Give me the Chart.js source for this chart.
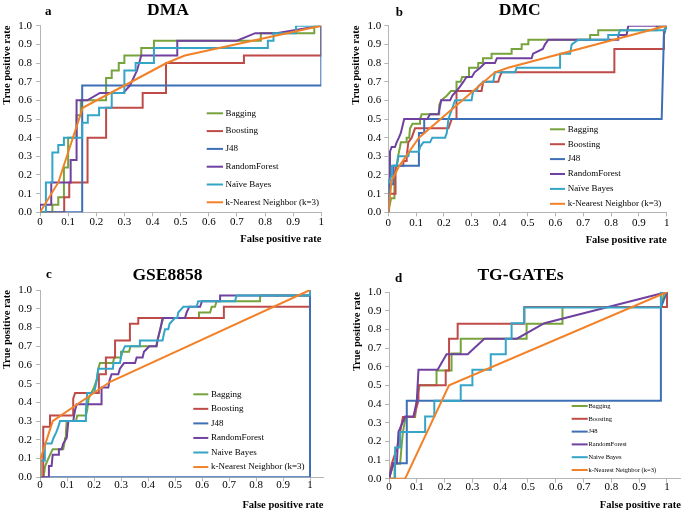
<!DOCTYPE html>
<html>
<head>
<meta charset="utf-8">
<script src="https://cdn.jsdelivr.net/npm/chart.js@4"></script>
<style>
html,body{margin:0;padding:0;background:#fff;width:697px;height:512px;overflow:hidden;position:relative}
canvas{position:absolute}
</style>
</head>
<body>
<canvas id="p0" width="345" height="250" style="left:0px;top:0px"></canvas>
<canvas id="p1" width="352" height="250" style="left:345px;top:0px"></canvas>
<canvas id="p2" width="345" height="262" style="left:0px;top:250px"></canvas>
<canvas id="p3" width="352" height="262" style="left:345px;top:250px"></canvas>
<script>
// ---------- tick labels ----------
const xTickLabels = ['0','0.1','0.2','0.3','0.4','0.5','0.6','0.7','0.8','0.9','1'];
const yTickLabels = ['0.0','0.1','0.2','0.3','0.4','0.5','0.6','0.7','0.8','0.9','1.0'];

// ---------- panels / series ----------
const panelTitles = ['DMA', 'DMC', 'GSE8858', 'TG-GATEs'];
const panelLetters = ['a', 'b', 'c', 'd'];
const seriesNamesAB = ['Bagging', 'Boosting', 'J48', 'RandomForest', 'Naïve Bayes', 'k-Nearest Neighbor (k=3)'];
const seriesNamesCD = ['Bagging', 'Boosting', 'J48', 'RandomForest', 'Naive Bayes', 'k-Nearest Neighbor (k=3)'];
const seriesColors = ['#77a33d', '#be4b48', '#3d6fb6', '#7041a0', '#35a5c7', '#f28128'];

// ---------- DMA (false positive rate, true positive rate) ----------
const dmaBagging = [[0,0],[0.044,0],[0.044,0.04],[0.065,0.04],[0.065,0.08],[0.085,0.08],[0.085,0.24],[0.1,0.24],[0.1,0.4],[0.13,0.4],[0.13,0.52],[0.145,0.52],[0.145,0.6],[0.235,0.6],[0.235,0.72],[0.255,0.72],[0.255,0.76],[0.28,0.76],[0.28,0.8],[0.3,0.8],[0.3,0.84],[0.36,0.84],[0.36,0.88],[0.405,0.88],[0.405,0.92],[0.785,0.92],[0.785,0.96],[0.975,0.96],[0.975,1],[1,1]];
const dmaBoosting = [[0,0],[0.086,0],[0.086,0.08],[0.104,0.08],[0.104,0.16],[0.169,0.16],[0.169,0.4],[0.235,0.4],[0.235,0.56],[0.365,0.56],[0.365,0.64],[0.448,0.64],[0.448,0.8],[0.725,0.8],[0.725,0.84],[1,0.84],[1,1]];
const dmaJ48 = [[0,0],[0.15,0],[0.15,0.68],[1,0.68],[1,1]];
const dmaRandomForest = [[0,0],[0,0.04],[0.04,0.04],[0.04,0.16],[0.109,0.16],[0.109,0.28],[0.13,0.28],[0.13,0.6],[0.168,0.6],[0.213,0.64],[0.296,0.64],[0.32,0.68],[0.345,0.76],[0.36,0.84],[0.488,0.84],[0.488,0.92],[0.7,0.92],[0.765,0.96],[0.84,0.96],[1,1]];
const dmaNaiveBayes = [[0,0],[0.021,0],[0.021,0.16],[0.044,0.16],[0.044,0.32],[0.065,0.32],[0.065,0.36],[0.085,0.36],[0.085,0.4],[0.15,0.4],[0.15,0.48],[0.17,0.48],[0.17,0.52],[0.21,0.52],[0.21,0.56],[0.255,0.56],[0.255,0.64],[0.3,0.64],[0.3,0.76],[0.34,0.76],[0.34,0.8],[0.405,0.8],[0.405,0.88],[0.81,0.88],[0.81,0.92],[0.83,0.92],[0.83,0.96],[0.91,0.96],[0.91,1],[1,1]];
const dmaKnn = [[0,0],[0.065,0.16],[0.152,0.56],[0.45,0.8],[0.515,0.84],[1,1]];

// ---------- DMC ----------
const dmcBagging = [[0,0],[0.01,0.075],[0.022,0.075],[0.022,0.2],[0.03,0.25],[0.035,0.3],[0.042,0.35],[0.045,0.375],[0.066,0.375],[0.066,0.4],[0.075,0.4],[0.078,0.45],[0.087,0.475],[0.114,0.475],[0.114,0.5],[0.12,0.525],[0.183,0.525],[0.183,0.575],[0.19,0.6],[0.21,0.625],[0.225,0.65],[0.245,0.65],[0.245,0.7],[0.26,0.7],[0.265,0.725],[0.29,0.725],[0.29,0.775],[0.323,0.775],[0.323,0.8],[0.34,0.8],[0.34,0.825],[0.371,0.825],[0.371,0.85],[0.443,0.85],[0.443,0.875],[0.479,0.875],[0.479,0.9],[0.503,0.9],[0.503,0.925],[0.725,0.925],[0.725,0.95],[0.754,0.95],[0.754,0.975],[0.964,0.975],[0.964,1],[1,1]];
const dmcBoosting = [[0,0],[0.006,0.1],[0.026,0.1],[0.026,0.25],[0.054,0.25],[0.054,0.275],[0.066,0.275],[0.066,0.3],[0.072,0.375],[0.084,0.4],[0.096,0.45],[0.216,0.45],[0.222,0.475],[0.228,0.5],[0.245,0.5],[0.245,0.65],[0.335,0.65],[0.341,0.7],[0.395,0.7],[0.4,0.725],[0.407,0.75],[0.812,0.75],[0.812,0.875],[0.988,0.875],[0.99,0.975],[1,1]];
const dmcJ48 = [[0,0],[0,0.15],[0.018,0.15],[0.018,0.25],[0.11,0.25],[0.11,0.425],[0.129,0.425],[0.129,0.5],[0.982,0.5],[0.99,0.95],[1,1]];
const dmcRandomForest = [[0,0],[0.004,0.175],[0.006,0.325],[0.012,0.35],[0.024,0.35],[0.03,0.375],[0.038,0.4],[0.045,0.425],[0.057,0.5],[0.14,0.5],[0.15,0.525],[0.18,0.525],[0.19,0.6],[0.222,0.6],[0.23,0.625],[0.245,0.65],[0.258,0.675],[0.27,0.7],[0.281,0.725],[0.3,0.725],[0.31,0.75],[0.33,0.775],[0.347,0.8],[0.383,0.8],[0.39,0.825],[0.515,0.825],[0.52,0.85],[0.555,0.875],[0.563,0.9],[0.575,0.925],[0.826,0.925],[0.826,0.95],[0.856,0.95],[0.862,1],[1,1]];
const dmcNaiveBayes = [[0,0],[0,0.15],[0.012,0.2],[0.012,0.25],[0.03,0.25],[0.034,0.275],[0.036,0.3],[0.072,0.3],[0.075,0.325],[0.11,0.325],[0.114,0.35],[0.126,0.375],[0.15,0.375],[0.158,0.4],[0.204,0.4],[0.21,0.425],[0.216,0.5],[0.228,0.55],[0.234,0.575],[0.24,0.6],[0.299,0.6],[0.305,0.65],[0.317,0.65],[0.323,0.675],[0.341,0.7],[0.377,0.7],[0.383,0.75],[0.455,0.75],[0.461,0.775],[0.617,0.775],[0.617,0.85],[0.653,0.85],[0.659,0.9],[0.683,0.925],[0.79,0.925],[0.79,0.95],[0.826,0.95],[0.832,0.975],[0.994,0.975],[1,1]];
const dmcKnn = [[0,0],[0.012,0.17],[0.04,0.25],[0.11,0.4],[0.383,0.75],[0.43,0.775],[1,1]];

// ---------- GSE8858 ----------
const gseBagging = [[0,0],[0.013,0],[0.019,0.06],[0.028,0.09],[0.037,0.12],[0.047,0.15],[0.086,0.15],[0.09,0.18],[0.093,0.21],[0.096,0.24],[0.099,0.3],[0.133,0.3],[0.138,0.33],[0.17,0.33],[0.175,0.36],[0.18,0.42],[0.19,0.45],[0.2,0.48],[0.21,0.52],[0.216,0.58],[0.222,0.61],[0.27,0.61],[0.275,0.64],[0.3,0.64],[0.3,0.67],[0.33,0.67],[0.335,0.7],[0.43,0.7],[0.435,0.73],[0.44,0.76],[0.446,0.79],[0.45,0.82],[0.457,0.85],[0.589,0.85],[0.589,0.88],[0.63,0.88],[0.636,0.91],[0.648,0.91],[0.654,0.94],[0.815,0.94],[0.815,0.97],[1,0.97],[1,1]];
const gseBoosting = [[0,0],[0.012,0],[0.012,0.27],[0.037,0.27],[0.037,0.33],[0.123,0.33],[0.123,0.42],[0.13,0.45],[0.218,0.45],[0.218,0.55],[0.244,0.55],[0.244,0.64],[0.278,0.64],[0.278,0.73],[0.333,0.73],[0.333,0.82],[0.364,0.82],[0.364,0.85],[0.681,0.85],[0.681,0.91],[1,0.91],[1,1]];
const gseJ48 = [[0,0],[1,0],[1,1]];
const gseRandomForest = [[0,0],[0.033,0],[0.033,0.06],[0.043,0.06],[0.047,0.12],[0.068,0.12],[0.07,0.15],[0.08,0.15],[0.086,0.18],[0.099,0.21],[0.105,0.3],[0.123,0.3],[0.13,0.36],[0.136,0.39],[0.228,0.39],[0.228,0.48],[0.253,0.48],[0.258,0.52],[0.265,0.55],[0.29,0.55],[0.296,0.58],[0.311,0.61],[0.352,0.61],[0.358,0.64],[0.38,0.64],[0.385,0.67],[0.405,0.7],[0.432,0.7],[0.435,0.73],[0.44,0.76],[0.445,0.79],[0.45,0.82],[0.454,0.85],[0.537,0.85],[0.543,0.88],[0.553,0.91],[0.593,0.91],[0.6,0.94],[0.667,0.94],[0.667,0.97],[1,0.97],[1,1]];
const gseNaiveBayes = [[0,0],[0.003,0.09],[0.018,0.09],[0.018,0.18],[0.043,0.18],[0.05,0.21],[0.06,0.24],[0.068,0.27],[0.074,0.3],[0.167,0.3],[0.17,0.36],[0.175,0.45],[0.2,0.45],[0.205,0.48],[0.21,0.52],[0.216,0.58],[0.27,0.58],[0.272,0.61],[0.296,0.61],[0.3,0.64],[0.305,0.67],[0.315,0.7],[0.37,0.7],[0.37,0.73],[0.454,0.73],[0.458,0.76],[0.463,0.79],[0.475,0.79],[0.48,0.82],[0.5,0.85],[0.508,0.85],[0.512,0.88],[0.531,0.91],[0.58,0.91],[0.586,0.94],[0.722,0.94],[0.728,0.97],[1,0.97],[1,1]];
const gseKnn = [[0,0],[0,0.09],[0.047,0.3],[0.26,0.51],[1,1]];

// ---------- TG-GATEs ----------
const tggBagging = [[0,0],[0.02,0],[0.02,0.08],[0.04,0.08],[0.045,0.17],[0.05,0.25],[0.06,0.33],[0.094,0.33],[0.1,0.42],[0.11,0.5],[0.171,0.5],[0.171,0.58],[0.225,0.58],[0.225,0.67],[0.258,0.67],[0.258,0.75],[0.495,0.75],[0.495,0.83],[0.624,0.83],[0.624,0.92],[0.98,0.92],[0.99,1],[1,1]];
const tggBoosting = [[0,0],[0.01,0.08],[0.03,0.17],[0.04,0.25],[0.05,0.33],[0.09,0.33],[0.106,0.42],[0.106,0.5],[0.204,0.5],[0.204,0.58],[0.216,0.58],[0.216,0.75],[0.247,0.75],[0.247,0.83],[0.487,0.83],[0.487,0.92],[1,0.92],[1,1]];
const tggJ48 = [[0,0],[0.016,0.083],[0.064,0.083],[0.064,0.417],[0.978,0.417],[0.978,0.917],[1,1]];
const tggRandomForest = [[0,0],[0.016,0.083],[0.028,0.083],[0.034,0.25],[0.058,0.333],[0.088,0.333],[0.1,0.417],[0.106,0.583],[0.175,0.583],[0.207,0.667],[0.283,0.667],[0.343,0.75],[0.46,0.75],[0.559,0.833],[1,1]];
const tggNaiveBayes = [[0,0],[0.022,0],[0.022,0.167],[0.04,0.167],[0.04,0.25],[0.13,0.25],[0.13,0.333],[0.163,0.333],[0.163,0.417],[0.258,0.417],[0.258,0.5],[0.3,0.5],[0.3,0.583],[0.366,0.583],[0.366,0.667],[0.42,0.667],[0.42,0.75],[0.441,0.75],[0.441,0.833],[0.486,0.833],[0.486,0.917],[0.978,0.917],[0.978,1],[1,1]];
const tggKnn = [[0,0],[0.058,0],[0.216,0.5],[1,1]];

const panelSeries = [
  [dmaBagging, dmaBoosting, dmaJ48, dmaRandomForest, dmaNaiveBayes, dmaKnn],
  [dmcBagging, dmcBoosting, dmcJ48, dmcRandomForest, dmcNaiveBayes, dmcKnn],
  [gseBagging, gseBoosting, gseJ48, gseRandomForest, gseNaiveBayes, gseKnn],
  [tggBagging, tggBoosting, tggJ48, tggRandomForest, tggNaiveBayes, tggKnn]
];
const panelNames = [seriesNamesAB, seriesNamesAB, seriesNamesCD, seriesNamesCD];

// ---------- layout / style (pixels, per panel canvas) ----------
const panelLayout = [
  {yW:40, padR:23.7, padT:25.7, xH:37.7, xMax:1, xTickPad:0, yTickPad:4, yTitlePad:1.2, xTitlePadB:4.4,
   title:{x:168, y:15}, letter:{x:45, y:15}, legend:{x0:206.7, x1:223, tx:225.5, y:113.3, dy:17.8, size:9}},
  {yW:43.3, padR:30.3, padT:25.7, xH:37.7, xMax:1, xTickPad:1.5, yTickPad:3, yTitlePad:4.7, xTitlePadB:3.7,
   title:{x:174.7, y:15}, letter:{x:50.7, y:16}, legend:{x0:205, x1:220, tx:222.7, y:129.3, dy:14.9, size:9}},
  {yW:40, padR:21.5, padT:40, xH:34.7, xMax:1.05, xTickPad:-2, yTickPad:4, yTitlePad:1.2, xTitlePadB:0.7,
   title:{x:167.5, y:30}, letter:{x:46, y:28.3}, legend:{x0:193.3, x1:208.3, tx:211, y:144.3, dy:14.55, size:9}},
  {yW:44, padR:16.1, padT:42, xH:33.3, xMax:1.05, xTickPad:-1.2, yTickPad:3.5, yTitlePad:6.2, xTitlePadB:0,
   title:{x:175.5, y:30}, letter:{x:50, y:31.7}, legend:{x0:226.7, x1:242.7, tx:243.5, y:156, dy:12.8, size:6.5}}
];

const FONT = '"Liberation Serif", "Times New Roman", serif';
Chart.defaults.font.family = FONT;
Chart.defaults.color = '#000';
const AXIS = '#b5b5b5';

const panelDecor = {
  id: 'panelDecor',
  afterDraw(chart, args, o) {
    const ctx = chart.ctx;
    ctx.save();
    // title & letter
    ctx.fillStyle = '#000';
    ctx.textBaseline = 'alphabetic';
    ctx.textAlign = 'center';
    ctx.font = 'bold 17.5px ' + FONT;
    ctx.fillText(o.title, o.titlePos.x, o.titlePos.y);
    ctx.textAlign = 'left';
    ctx.font = 'bold 13px ' + FONT;
    ctx.fillText(o.letter, o.letterPos.x, o.letterPos.y);
    // legend inside plot
    const lg = o.legend;
    ctx.font = lg.size + 'px ' + FONT;
    ctx.textBaseline = 'middle';
    chart.data.datasets.forEach((ds, i) => {
      const y = lg.y + i * lg.dy;
      ctx.strokeStyle = ds.borderColor;
      ctx.lineWidth = 2;
      ctx.beginPath();
      ctx.moveTo(lg.x0, y);
      ctx.lineTo(lg.x1, y);
      ctx.stroke();
      ctx.fillStyle = '#000';
      ctx.fillText(ds.label, lg.tx, y);
    });
    ctx.restore();
  }
};

panelSeries.forEach((series, p) => {
  const L = panelLayout[p];
  const names = panelNames[p];
  new Chart(document.getElementById('p' + p), {
    type: 'scatter',
    data: {
      datasets: series.map((pts, i) => ({
        label: names[i],
        data: pts,
        showLine: true,
        borderColor: seriesColors[i],
        backgroundColor: seriesColors[i],
        borderWidth: 2,
        pointRadius: 0,
        pointHoverRadius: 0,
        tension: 0,
        fill: false,
        order: series.length - 1 - i
      }))
    },
    options: {
      responsive: false,
      animation: false,
      events: [],
      layout: { padding: { left: 0, right: L.padR, top: L.padT, bottom: 0 } },
      scales: {
        x: {
          type: 'linear', min: 0, max: L.xMax,
          afterFit: s => { s.height = L.xH; },
          ticks: { stepSize: 0.1, includeBounds: false, autoSkip: false, maxRotation: 0,
                   padding: L.xTickPad, color: '#000', font: { size: 11, lineHeight: 1 },
                   callback: (v, i) => xTickLabels[i] },
          grid: { drawOnChartArea: false, drawTicks: true, tickLength: 4, color: AXIS },
          border: { display: true, color: AXIS, width: 1 },
          title: { display: true, text: 'False positive rate', align: 'end', color: '#000',
                   font: { size: 10.5, weight: 'bold' }, padding: { top: 0, bottom: L.xTitlePadB } }
        },
        y: {
          type: 'linear', min: 0, max: 1,
          afterFit: s => { s.width = L.yW; },
          ticks: { stepSize: 0.1, autoSkip: false, padding: L.yTickPad, color: '#000',
                   font: { size: 11 }, callback: (v, i) => yTickLabels[i] },
          grid: { drawOnChartArea: false, drawTicks: true, tickLength: 4, color: AXIS },
          border: { display: true, color: AXIS, width: 1 },
          title: { display: true, text: 'True positive rate', align: 'end', color: '#000',
                   font: { size: 10.5, weight: 'bold' }, padding: { top: L.yTitlePad, bottom: 0 } }
        }
      },
      plugins: {
        legend: { display: false },
        tooltip: { enabled: false },
        panelDecor: {
          title: panelTitles[p], letter: panelLetters[p],
          titlePos: L.title, letterPos: L.letter, legend: L.legend
        }
      }
    },
    plugins: [panelDecor]
  });
});
</script>
</body>
</html>
